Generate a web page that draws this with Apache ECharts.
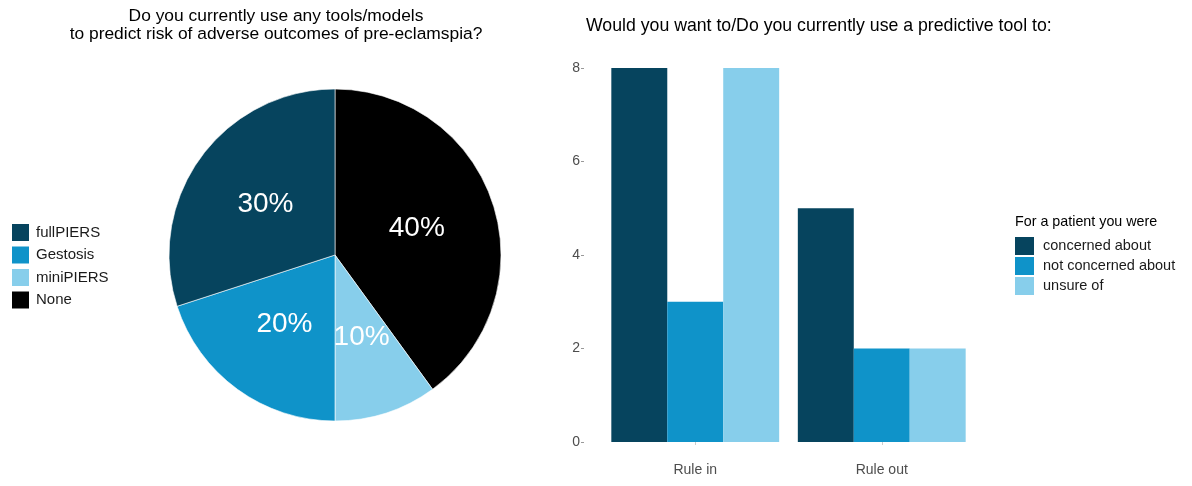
<!DOCTYPE html>
<html>
<head>
<meta charset="utf-8">
<script src="https://cdn.jsdelivr.net/npm/echarts@6/dist/echarts.min.js"></script>
<style>
  html, body { margin: 0; padding: 0; background: #ffffff; }
  #chart { width: 1192px; height: 486px; }
</style>
</head>
<body>
<div id="chart"></div>
<script>
// Pie: tools/models in use (percent of respondents), drawn clockwise from 12 o'clock
const pieNames = ['None', 'miniPIERS', 'Gestosis', 'fullPIERS'];
const pieValues = [40, 10, 20, 30];
const legendOrder = ['fullPIERS', 'Gestosis', 'miniPIERS', 'None'];

// Bars: counts by intended use and patient concern
const barCategories = ['Rule in', 'Rule out'];
const barSeriesNames = ['concerned about', 'not concerned about', 'unsure of'];
const concernedAbout = [8, 5];
const notConcernedAbout = [3, 2];
const unsureOf = [8, 2];
const yTicks = [0, 2, 4, 6, 8];

const DARK = '#06445e';
const MID = '#0f93c9';
const LIGHT = '#87ceeb';
const pieColors = { 'None': '#000000', 'miniPIERS': LIGHT, 'Gestosis': MID, 'fullPIERS': DARK };
const FONT = '"Liberation Sans", Arial, sans-serif';

const chart = echarts.init(document.getElementById('chart'), null, { renderer: 'canvas' });

const barValues = [concernedAbout, notConcernedAbout, unsureOf];
const barColors = [DARK, MID, LIGHT];

chart.setOption({
  animation: false,
  textStyle: { fontFamily: FONT },
  title: [
    {
      text: 'Do you currently use any tools/models\nto predict risk of adverse outcomes of pre-eclamspia?',
      left: 271, top: 2, textAlign: 'center',
      textStyle: { fontSize: 17.4, fontWeight: 'normal', color: '#000', lineHeight: 18, fontFamily: FONT }
    },
    {
      text: 'Would you want to/Do you currently use a predictive tool to:',
      left: 581, top: 12,
      textStyle: { fontSize: 17.7, fontWeight: 'normal', color: '#000', fontFamily: FONT }
    }
  ],
  legend: [
    {
      data: legendOrder,
      orient: 'vertical',
      left: 5, top: 217,
      itemWidth: 19, itemHeight: 19, itemGap: 1.5,
      icon: 'rect',
      textStyle: { fontSize: 15, color: '#1a1a1a', fontFamily: FONT, padding: [0, 0, 0, 1] }
    },
    {
      data: barSeriesNames,
      orient: 'vertical',
      left: 1010, top: 232,
      itemWidth: 19, itemHeight: 18, itemGap: 2,
      icon: 'rect',
      textStyle: { fontSize: 14.5, color: '#1a1a1a', fontFamily: FONT, padding: [0, 0, 0, 4] }
    }
  ],
  graphic: [{
    type: 'text', left: 1015, top: 215,
    style: { text: 'For a patient you were', font: '14.3px ' + FONT, fill: '#000' }
  }],
  grid: { left: 602, right: 217, top: 68, bottom: 44 },
  xAxis: {
    type: 'category',
    data: barCategories,
    offset: 16,
    axisLine: { show: false },
    axisTick: { show: true, alignWithLabel: true, length: 3, lineStyle: { color: '#cccccc' } },
    axisLabel: { margin: 5, fontSize: 14, color: '#4d4d4d', fontFamily: FONT },
    splitLine: { show: false }
  },
  yAxis: {
    type: 'value',
    min: yTicks[0], max: yTicks[yTicks.length - 1], interval: 2,
    offset: 18,
    axisLine: { show: false },
    axisTick: { show: true, length: 3, lineStyle: { color: '#999999' } },
    axisLabel: { margin: 4, fontSize: 14, color: '#4d4d4d', fontFamily: FONT },
    splitLine: { show: false }
  },
  series: [
    {
      type: 'pie',
      name: 'tools',
      center: [335, 255],
      radius: 166,
      startAngle: 90,
      clockwise: true,
      avoidLabelOverlap: false,
      itemStyle: { borderColor: '#ffffff', borderWidth: 0.6 },
      label: {
        position: 'inside',
        formatter: p => p.value + '%',
        color: '#ffffff',
        fontSize: 28,
        fontFamily: FONT
      },
      labelLine: { show: false },
      emphasis: { disabled: true },
      data: pieNames.map((n, i) => ({ name: n, value: pieValues[i], itemStyle: { color: pieColors[n] } }))
    }
  ].concat(barSeriesNames.map((n, i) => ({
    type: 'bar',
    name: n,
    data: barValues[i],
    barGap: '0%',
    barCategoryGap: '10%',
    itemStyle: { color: barColors[i] },
    emphasis: { disabled: true }
  })))
});
</script>
</body>
</html>
